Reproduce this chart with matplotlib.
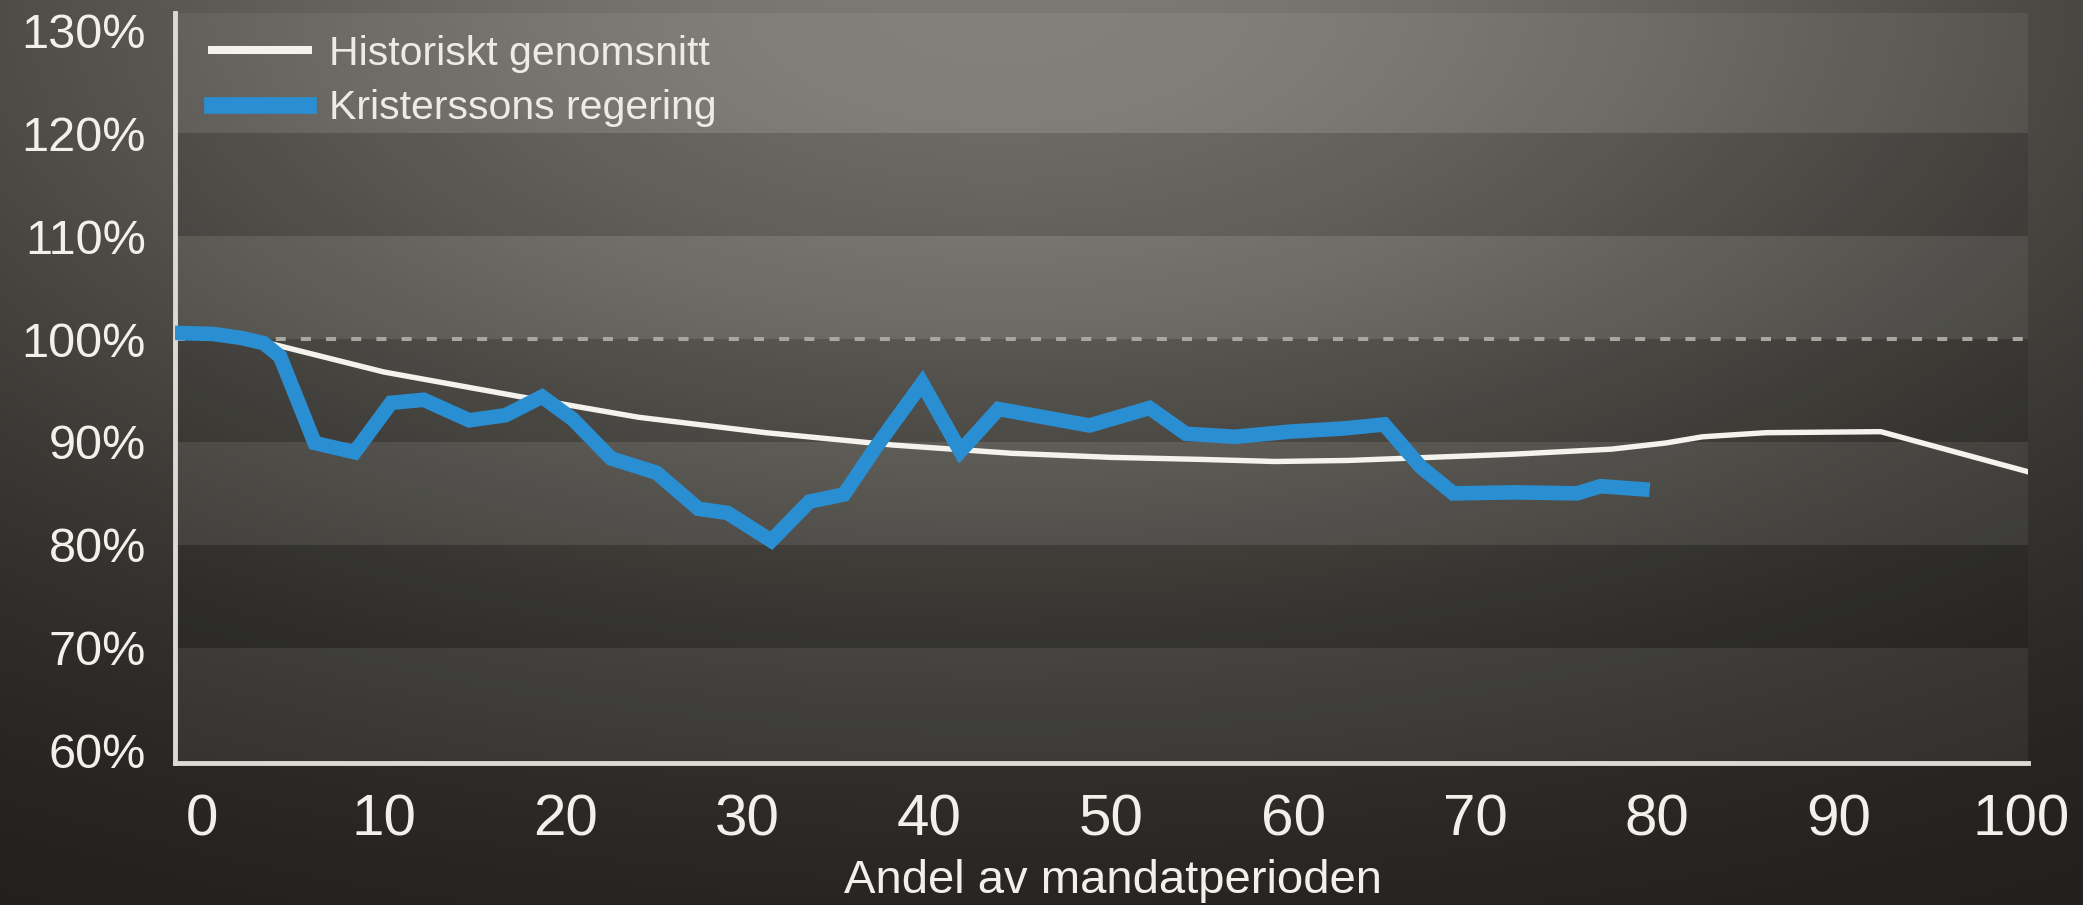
import numpy as np
import matplotlib.pyplot as plt


# Data (x = andel av mandatperioden, y = procent)

hist_x = [-1.5, 3, 10, 17.5, 24, 31, 38, 44.5, 50, 55, 59, 63, 67.5, 72, 77.5,
          80.5, 82.5, 86, 92.3, 100.4]
hist_y = [100.3, 99.9, 96.8, 94.4, 92.4, 90.9, 89.7, 88.9, 88.5, 88.3, 88.1,
          88.2, 88.5, 88.8, 89.3, 89.9, 90.5, 90.9, 91.0, 87.1]

kris_x = [-1.5, 0.6, 2.2, 3.4, 4.3, 6.2, 8.4, 10.4, 12.2, 14.7, 16.7, 18.7,
          20.4, 22.5, 25.0, 27.3, 28.9, 31.3, 33.4, 35.3, 37.1, 39.6, 41.7,
          43.8, 46.3, 48.8, 52.1, 54.1, 56.8, 59.8, 62.7, 65.0, 67.0, 68.8,
          72.2, 75.6, 76.9, 79.2]
kris_y = [100.6, 100.5, 100.1, 99.6, 98.3, 89.9, 89.0, 93.8, 94.1, 92.1, 92.6,
          94.4, 92.2, 88.4, 87.0, 83.5, 83.1, 80.4, 84.2, 84.9, 89.6, 95.7,
          89.1, 93.2, 92.4, 91.6, 93.3, 90.8, 90.5, 91.0, 91.3, 91.7, 87.6,
          85.0, 85.1, 85.0, 85.7, 85.4]

y_ticks = [60, 70, 80, 90, 100, 110, 120, 130]
y_labels = ["60%", "70%", "80%", "90%", "100%", "110%", "120%", "130%"]
x_ticks = [0, 10, 20, 30, 40, 50, 60, 70, 80, 90, 100]
x_labels = [str(t) for t in x_ticks]

series_names = ["Historiskt genomsnitt", "Kristerssons regering"]


# Style

plt.rcParams["font.family"] = ["Liberation Sans", "DejaVu Sans"]
text_col = "#f2f0eb"
blue = "#2a8fd2"

fig = plt.figure(figsize=(20.83, 9.05), dpi=100)

# soft spotlight background, lightest at the top middle
gh, gw = 300, 700
U, V = np.meshgrid(np.linspace(0, 1, gw), np.linspace(1, 0, gh))
wgt = np.exp(-((U - 0.48)**2 / (2 * 0.42**2)) - ((1 - V)**2 / (2 * 0.48**2)))
dark = np.array([28, 27, 24]) / 255
light = np.array([125, 122, 115]) / 255
img = dark + (light - dark) * wgt[..., None]

bg = fig.add_axes([0, 0, 1, 1], zorder=0)
bg.imshow(img, aspect="auto", extent=(0, 1, 0, 1), interpolation="bilinear")
bg.axis("off")

ax = fig.add_axes([0.084, 0.157, 0.8896, 0.8287], zorder=1)
ax.set_facecolor("none")

ymin, ymax = 58.8, 131.7
ax.set_xlim(-1.48, 100.4)
ax.set_ylim(ymin, ymax)

# alternating bands
edges = [ymin] + y_ticks[1:-1] + [ymax]
for i in range(len(edges) - 1):
    if i % 2 == 0:
        ax.axhspan(edges[i], edges[i + 1], color="white", alpha=0.06, lw=0, zorder=0)
    else:
        ax.axhspan(edges[i], edges[i + 1], color="black", alpha=0.10, lw=0, zorder=0)

# 100% reference
ax.axhline(100, color="#a9a69f", lw=2.9, linestyle=(0, (2.5, 3.75)),
           dash_capstyle="butt", zorder=1)

ax.plot(hist_x, hist_y, color="#f4f2ec", lw=3.9, label=series_names[0], zorder=3)
ax.plot(kris_x, kris_y, color=blue, lw=10.5, label=series_names[1], zorder=4,
        solid_joinstyle="miter")

# Axes

for side in ["top", "right"]:
    ax.spines[side].set_visible(False)
for side in ["left", "bottom"]:
    ax.spines[side].set_color("#dcdad4")
    ax.spines[side].set_linewidth(3.5)

ax.set_yticks(y_ticks, y_labels)
ax.set_xticks(x_ticks, x_labels)
ax.tick_params(axis="y", length=0, pad=21, labelsize=35, labelcolor=text_col)
ax.tick_params(axis="x", length=0, pad=22, labelsize=42, labelcolor=text_col)

ax.set_xlabel("Andel av mandatperioden", fontsize=34, color=text_col)
ax.xaxis.set_label_coords(0.506, -0.128)

leg = ax.legend(loc="upper left", bbox_to_anchor=(0.02, 0.971), frameon=False,
                fontsize=29.5, handlelength=2.35, handletextpad=0.5,
                labelspacing=0.4, borderpad=0, borderaxespad=0,
                labelcolor="#ecebe6")
leg.get_lines()[0].set_linewidth(5.8)
leg.get_lines()[1].set_linewidth(12)

fig.savefig("out.png", dpi=100)
